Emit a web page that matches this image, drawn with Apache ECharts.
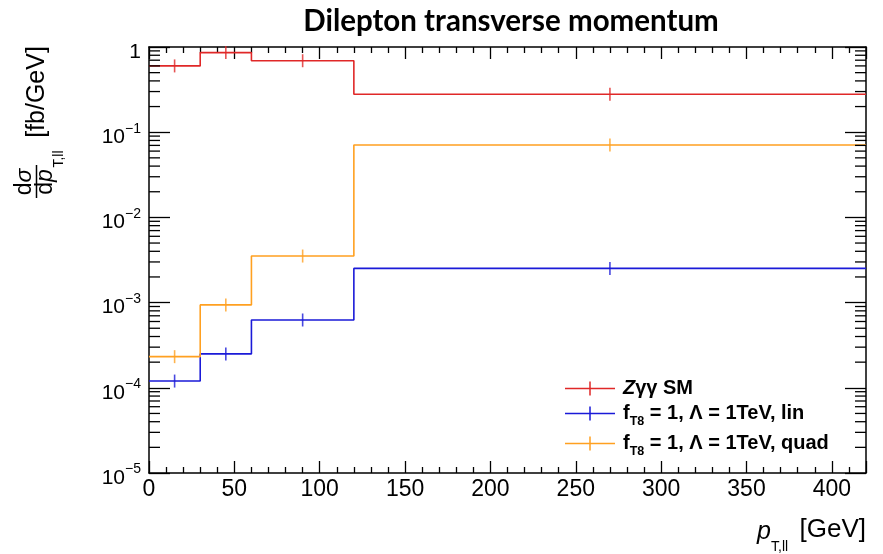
<!DOCTYPE html>
<html><head><meta charset="utf-8">
<script src="https://cdn.jsdelivr.net/npm/echarts@6/dist/echarts.min.js"></script>
<style>html,body{margin:0;padding:0;background:#fff}#c{width:883px;height:554px}</style>
</head><body><div id="c"></div>
<script>
// ---- data ----
const binEdges = [0, 30, 60, 120, 420];
const smValues = [0.60, 0.86, 0.69, 0.279];
const linValues = [1.20e-4, 2.50e-4, 6.25e-4, 2.52e-3];
const quadValues = [2.32e-4, 9.40e-4, 3.52e-3, 7.08e-2];
const seriesNames = ['Zγγ SM', 'fT8 = 1, Λ = 1TeV, lin', 'fT8 = 1, Λ = 1TeV, quad'];
const xMin = 0, xMax = 420, xInterval = 50;
const yMin = 1e-5, yMax = 1;
const yMinorTicks = [];
for (let k = -5; k < 0; k++) for (let m = 2; m <= 9; m++) yMinorTicks.push(m * Math.pow(10, k));

// ---- styles ----
const colors = ['#e02828', '#1a1ad8', '#ffa020'];
const FF = 'Liberation Sans';

function stepPoints(vals) {
  const pts = vals.map((v, i) => [binEdges[i], v]);
  pts.push([binEdges[binEdges.length - 1], vals[vals.length - 1]]);
  return pts;
}
function centers(vals) {
  return vals.map((v, i) => [(binEdges[i] + binEdges[i + 1]) / 2, v]);
}

const allValues = [smValues, linValues, quadValues];
const series = [];
allValues.forEach((vals, i) => {
  series.push({
    name: seriesNames[i], type: 'line', step: 'end', data: stepPoints(vals),
    showSymbol: false, symbol: 'none', lineStyle: { color: colors[i], width: 1.6 },
    itemStyle: { color: colors[i] }, z: 3, animation: false, silent: true
  });
  series.push({
    name: seriesNames[i], type: 'scatter', data: centers(vals), symbol: 'rect',
    symbolSize: [1.6, 13], itemStyle: { color: colors[i] }, z: 4, animation: false, silent: true
  });
});
series.push({
  type: 'custom', silent: true, animation: false, z: 5,
  data: yMinorTicks.map(v => [xMin, v]),
  renderItem: function (params, api) {
    const v = api.value(1);
    const p1 = api.coord([xMin, v]);
    const p2 = api.coord([xMax, v]);
    const st = { stroke: '#000', lineWidth: 1.3 };
    return {
      type: 'group', children: [
        { type: 'line', shape: { x1: p1[0], y1: p1[1], x2: p1[0] + 11, y2: p1[1] }, style: st },
        { type: 'line', shape: { x1: p2[0] - 11, y1: p2[1], x2: p2[0], y2: p2[1] }, style: st }
      ]
    };
  }
});

function yFmt(value) {
  const e = Math.round(Math.log10(value));
  if (e === 0) return '{b|1}';
  return '{b|10}{s|−' + (-e) + '}';
}
function legendFmt(name) {
  if (name === seriesNames[0]) return '{i|Z}{n|γγ SM}';
  return '{n|f}{sub|T8}{n|' + name.slice(3) + '}';
}

const xAxisCommon = {
  type: 'value', min: xMin, max: xMax, interval: xInterval,
  axisLine: { show: true, onZero: false, lineStyle: { color: '#000', width: 1.5 } },
  axisTick: { show: true, inside: true, length: 12, lineStyle: { color: '#000', width: 1.3 } },
  minorTick: { show: true, splitNumber: 5, length: 6, lineStyle: { color: '#000', width: 1.3 } },
  splitLine: { show: false }
};
const yAxisCommon = {
  type: 'log', logBase: 10, min: yMin, max: yMax,
  axisLine: { show: true, onZero: false, lineStyle: { color: '#000', width: 1.5 } },
  axisTick: { show: true, inside: true, length: 21, lineStyle: { color: '#000', width: 1.3 } },
  splitLine: { show: false }
};

const option = {
  backgroundColor: '#fff',
  animation: false,
  grid: { left: 149, right: 17, top: 47, bottom: 81, containLabel: false },
  xAxis: [
    Object.assign({}, xAxisCommon, {
      position: 'bottom',
      axisLabel: { show: true, fontFamily: FF, fontSize: 23, color: '#000', margin: 5, showMaxLabel: false }
    }),
    Object.assign({}, xAxisCommon, { position: 'top', axisLabel: { show: false } })
  ],
  yAxis: [
    Object.assign({}, yAxisCommon, {
      position: 'left',
      axisLabel: {
        show: true, margin: 8, formatter: yFmt, color: '#000',
        rich: {
          b: { fontFamily: FF, fontSize: 21, lineHeight: 21, padding: [5, 0, 0, 0], verticalAlign: 'top', color: '#000' },
          s: { fontFamily: FF, fontSize: 14, lineHeight: 14, verticalAlign: 'top', color: '#000' }
        }
      }
    }),
    Object.assign({}, yAxisCommon, { position: 'right', axisLabel: { show: false } })
  ],
  legend: {
    orient: 'vertical', left: 560, top: 373, itemWidth: 50, itemHeight: 20, itemGap: 5,
    icon: 'path://M0,9.25H50V10.75H0Z M24.25,3H25.75V17H24.25Z',
    data: seriesNames, formatter: legendFmt, selectedMode: false,
    textStyle: {
      fontFamily: FF, fontSize: 20, fontWeight: 'bold', color: '#000', padding: [0, 0, 0, 3],
      rich: {
        n: { fontFamily: FF, fontSize: 20, fontWeight: 'bold', lineHeight: 21, verticalAlign: 'top', color: '#000' },
        i: { fontFamily: FF, fontSize: 20, fontWeight: 'bold', fontStyle: 'italic', lineHeight: 21, verticalAlign: 'top', color: '#000' },
        sub: { fontFamily: FF, fontSize: 12.5, fontWeight: 'bold', lineHeight: 12, padding: [12, 0, 0, 0], verticalAlign: 'top', color: '#000' }
      }
    }
  },
  graphic: [
    { type: 'text', x: 511, y: 21, style: { text: 'Dilepton transverse momentum', fontFamily: 'Lato', fontWeight: 'bold', fontSize: 29.5, fill: '#000', align: 'center', verticalAlign: 'middle' } },
    // y-axis title (rotated)
    { type: 'text', x: 25, y: 182, rotation: Math.PI / 2, style: { text: '{n|d}{i|σ}', align: 'center', verticalAlign: 'middle', rich: { n: { fontFamily: FF, fontSize: 23, fill: '#000' }, i: { fontFamily: FF, fontSize: 23, fontStyle: 'italic', fill: '#000' } } } },
    { type: 'line', shape: { x1: 36.5, y1: 165, x2: 36.5, y2: 198 }, style: { stroke: '#000', lineWidth: 1.5 } },
    { type: 'text', x: 46, y: 182, rotation: Math.PI / 2, style: { text: '{n|d}{i|p}', align: 'center', verticalAlign: 'middle', rich: { n: { fontFamily: FF, fontSize: 23, fill: '#000' }, i: { fontFamily: FF, fontSize: 23, fontStyle: 'italic', fill: '#000' } } } },
    { type: 'text', x: 59, y: 159, rotation: Math.PI / 2, style: { text: 'T,ll', fontFamily: FF, fontSize: 14, fill: '#000', align: 'center', verticalAlign: 'middle' } },
    { type: 'text', x: 37, y: 92, rotation: Math.PI / 2, style: { text: '[fb/GeV]', fontFamily: FF, fontSize: 25, fill: '#000', align: 'center', verticalAlign: 'middle' } },
    // x-axis title
    { type: 'text', x: 757, y: 532, style: { text: 'p', fontFamily: FF, fontSize: 25, fontStyle: 'italic', fill: '#000', align: 'left', verticalAlign: 'middle' } },
    { type: 'text', x: 771, y: 547, style: { text: 'T,ll', fontFamily: FF, fontSize: 14, fill: '#000', align: 'left', verticalAlign: 'middle' } },
    { type: 'text', x: 866, y: 530, style: { text: '[GeV]', fontFamily: FF, fontSize: 26, fill: '#000', align: 'right', verticalAlign: 'middle' } }
  ],
  series: series
};
const chart = echarts.init(document.getElementById('c'), null, { renderer: 'canvas' });
chart.setOption(option);
</script></body></html>
